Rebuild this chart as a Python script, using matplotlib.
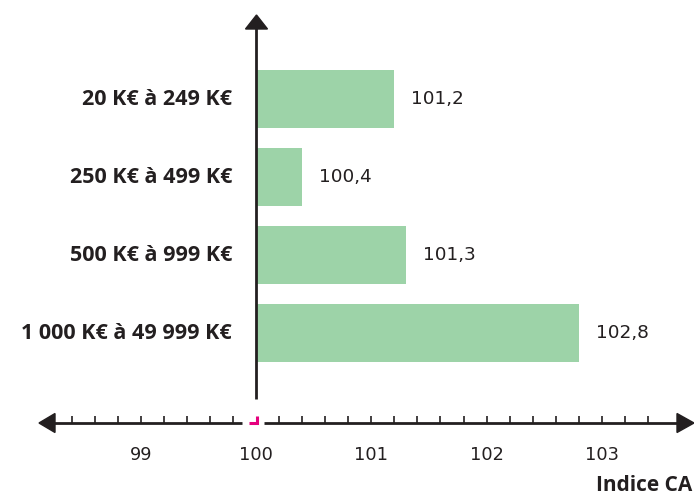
"""
Indice CA par tranche de chiffre d'affaires - barres horizontales partant de 100
"""
import matplotlib.pyplot as plt
from matplotlib.patches import Polygon

# ------------------------------------------------------------------
# Data
# ------------------------------------------------------------------
CATEGORIES = ["20 K€ à 249 K€", "250 K€ à 499 K€", "500 K€ à 999 K€", "1 000 K€ à 49 999 K€"]
VALUES = [101.2, 100.4, 101.3, 102.8]
VALUE_LABELS = ["101,2", "100,4", "101,3", "102,8"]
TICK_VALUES = [99, 100, 101, 102, 103]
TICK_LABELS = ["99", "100", "101", "102", "103"]
BASE = 100

BAR_COLOR = "#9dd3a8"
INK = "#231f20"
PINK = "#e5007e"

LABEL_FONT = ["Open Sans", "DejaVu Sans"]
NUM_FONT = ["DejaVu Sans"]

W, H = 694, 497
fig = plt.figure(figsize=(W / 100, H / 100), dpi=100)
ax = fig.add_axes([0, 0, 1, 1])

# pixel -> data helpers (x: 115.3 px per unit, 100 at px 256 ; y: 78 px per category)
PX_X = 115.3
PX_Y = 78.0


def xd(px):
    return BASE + (px - 256) / PX_X


def yd(py):
    return (py - 99) / PX_Y


ax.set_xlim(xd(0), xd(W))
ax.set_ylim(yd(H), yd(0))
ax.axis("off")

# ------------------------------------------------------------------
# Bars
# ------------------------------------------------------------------
ypos = list(range(len(CATEGORIES)))
widths = [v - BASE for v in VALUES]
ax.barh(ypos, widths, left=BASE, height=58 / PX_Y, color=BAR_COLOR, zorder=2)

for y, v, lab in zip(ypos, VALUES, VALUE_LABELS):
    ax.text(v + 17 / PX_X, y, lab, ha="left", va="center", fontsize=13.3,
            family=NUM_FONT, color=INK)

for y, cat in zip(ypos, CATEGORIES):
    ax.text(xd(232), y, cat, ha="right", va="center", fontsize=15.5,
            family=LABEL_FONT, fontweight="bold", color=INK)

# ------------------------------------------------------------------
# Vertical axis with arrow
# ------------------------------------------------------------------
ax.plot([BASE, BASE], [yd(399), yd(28)], color=INK, lw=2, solid_capstyle="butt", zorder=3)
ax.add_patch(Polygon([[xd(245.5), yd(29)], [xd(267.5), yd(29)], [xd(256.5), yd(15)]],
                     closed=True, color=INK, zorder=3))

# ------------------------------------------------------------------
# Horizontal axis (broken at 100) with arrows
# ------------------------------------------------------------------
axis_y = yd(423)
ax.plot([xd(52), xd(242)], [axis_y, axis_y], color=INK, lw=2, solid_capstyle="butt")
ax.plot([xd(264), xd(680)], [axis_y, axis_y], color=INK, lw=2, solid_capstyle="butt")
ax.add_patch(Polygon([[xd(39), axis_y], [xd(55), yd(413.5)], [xd(55), yd(432.5)]],
                     closed=True, color=INK))
ax.add_patch(Polygon([[xd(694), axis_y], [xd(677), yd(413.5)], [xd(677), yd(432.5)]],
                     closed=True, color=INK))

minor = [round(98.4 + 0.2 * i, 1) for i in range(26)]
for t in minor:
    if abs(t - BASE) < 0.01:
        continue
    ax.plot([t, t], [axis_y, yd(415.5)], color=INK, lw=1.2, solid_capstyle="butt")

# break marker at 100
ax.plot([xd(249), xd(257.5), xd(257.5)], [yd(422.5), yd(422.5), yd(415.5)],
        color=PINK, lw=2.2, solid_joinstyle="miter", solid_capstyle="butt")

for t, lab in zip(TICK_VALUES, TICK_LABELS):
    ax.text(t, yd(455), lab, ha="center", va="center", fontsize=12.8,
            family=NUM_FONT, color=INK)

ax.text(xd(692), yd(496), "Indice CA", ha="right", va="bottom", fontsize=15,
        family=LABEL_FONT, fontweight="bold", color=INK)

fig.savefig("out.png", dpi=100)
